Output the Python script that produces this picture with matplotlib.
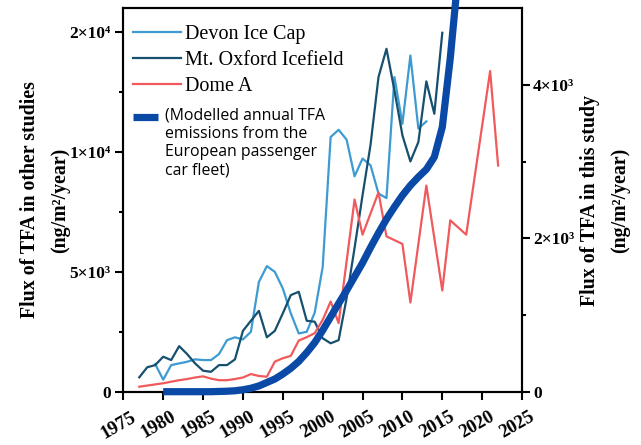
import matplotlib
matplotlib.use("Agg")
import numpy as np
import matplotlib.pyplot as plt
from matplotlib.legend_handler import HandlerLine2D
from matplotlib.transforms import ScaledTranslation

# Devon Ice Cap and Mt. Oxford Icefield (left axis, ng/m2/year)
devon_years = list(range(1979, 2014))
devon_flux = [1150, 500, 1110, 1180, 1250, 1350, 1320, 1320, 1570, 2150,
              2270, 2180, 2500, 4580, 5240, 5000, 4310, 3270, 2430, 2500,
              3300, 5200, 10630, 10930, 10520, 8990, 9730, 9450, 8270, 8080,
              13130, 11180, 14030, 10980, 11280]

oxford_years = list(range(1977, 2016))
oxford_flux = [600, 1020, 1110, 1460, 1320, 1900, 1570, 1180, 875, 830,
               1110, 1110, 1350, 2540, 2960, 3375, 2270, 2540, 3270, 4030,
               4170, 2960, 2920, 2230, 2020, 2150, 3900, 6000, 8200, 10300,
               13130, 14310, 12570, 10700, 9610, 10420, 12950, 11600, 14980]

# Dome A (right axis, this study)
domea_years = [1977, 1978, 1979, 1980, 1981, 1982, 1983, 1984, 1985, 1986,
               1987, 1988, 1989, 1990, 1991, 1992, 1993, 1994, 1995, 1996,
               1997, 1998, 1999, 2000, 2001, 2002, 2004, 2005, 2007, 2008,
               2010, 2011, 2013, 2015, 2016, 2018, 2021, 2022]
domea_flux = [65, 80, 95, 110, 130, 150, 165, 185, 200, 170,
              150, 150, 165, 185, 230, 205, 195, 392, 436, 467,
              667, 711, 763, 937, 1176, 894, 2506, 2048, 2600, 2026,
              1927, 1163, 2688, 1320, 2235, 2048, 4182, 2950]

# modelled TFA emissions from the European passenger car fleet
model_years = list(range(1980, 2018))
model_flux = [0, 0, 0, 0, 0, 0, 0, 3, 6, 12,
              25, 45, 75, 120, 165, 230, 305, 395, 510, 640,
              800, 975, 1150, 1320, 1500, 1680, 1880, 2070, 2250, 2410,
              2560, 2690, 2800, 2900, 3060, 3450, 4350, 5450]

left_ticks = [0, 5000, 10000, 15000]
left_labels = ["0", "5×10³", "1×10⁴", "2×10⁴"]
right_ticks = [0, 2000, 4000]
right_labels = ["0", "2×10³", "4×10³"]
year_ticks = list(range(1975, 2030, 5))

serif = ["Liberation Serif", "DejaVu Serif"]
plt.rcParams["font.family"] = serif

c_devon = "#3d9bd2"
c_oxford = "#17506f"
c_domea = "#f05a5c"
c_model = "#0a49a5"


class TopLineHandler(HandlerLine2D):
    """Legend key raised to sit beside the first line of a multi-line label."""

    def __init__(self, shift, **kw):
        super().__init__(**kw)
        self.shift = shift

    def create_artists(self, legend, orig_handle, xdescent, ydescent,
                       width, height, fontsize, trans):
        arts = super().create_artists(legend, orig_handle, xdescent, ydescent,
                                      width, height, fontsize, trans)
        for a in arts:
            a.set_ydata(np.asarray(a.get_ydata()) + self.shift)
        return arts


fig = plt.figure(figsize=(6.41, 4.45), dpi=100)
ax = fig.add_axes([0.1924, 0.1198, 0.622, 0.8615])
ax2 = ax.twinx()

l_devon, = ax.plot(devon_years, devon_flux, color=c_devon, lw=1.6)
l_oxford, = ax.plot(oxford_years, oxford_flux, color=c_oxford, lw=1.6)
l_domea, = ax2.plot(domea_years, domea_flux, color=c_domea, lw=1.6)
l_model, = ax2.plot(model_years, model_flux, color=c_model, lw=5.2,
                    solid_capstyle="butt", solid_joinstyle="round",
                    clip_on=False, zorder=5)

ax.set_xlim(1975, 2025)
ax.set_ylim(0, 16000)
ax2.set_ylim(0, 5000)

ax.set_xticks(year_ticks)
ax.set_xticklabels([str(y) for y in year_ticks], rotation=30, ha="right",
                   va="top", rotation_mode="anchor",
                   fontsize=13.5, fontweight="bold")
ax.set_yticks(left_ticks)
ax.set_yticklabels(left_labels, fontsize=12.5, fontweight="bold")
ax.set_yticks([2500, 7500, 12500], minor=True)
ax2.set_yticks(right_ticks)
ax2.set_yticklabels(right_labels, fontsize=12.5, fontweight="bold")
ax2.set_yticks([1000, 3000], minor=True)

for a in (ax, ax2):
    for s in a.spines.values():
        s.set_linewidth(1.5)
ax.tick_params(axis="both", which="major", width=1.5, length=5.5)
ax.tick_params(axis="x", pad=8)
ax.tick_params(axis="y", pad=3.5)
ax.tick_params(axis="y", which="minor", width=1.5, length=3)
ax2.tick_params(axis="y", which="major", width=1.5, length=5.5, pad=2.5)
ax2.tick_params(axis="y", which="minor", width=1.5, length=3)

# nudge the slanted year labels a little to the right
nudge = ScaledTranslation(0.07, 0.02, fig.dpi_scale_trans)
for lbl in ax.get_xticklabels():
    lbl.set_transform(lbl.get_transform() + nudge)

ax.set_ylabel("Flux of TFA in other studies\n(ng/m²/year)",
              fontsize=14.3, fontweight="bold", labelpad=0, linespacing=1.65)
ax2.set_ylabel("Flux of TFA in this study\n(ng/m²/year)",
               fontsize=14.3, fontweight="bold", labelpad=4, linespacing=1.7)

leg1 = ax2.legend([l_devon, l_oxford, l_domea],
                  ["Devon Ice Cap", "Mt. Oxford Icefield", "Dome A"],
                  loc="upper left", bbox_to_anchor=(0.0243, 0.956),
                  frameon=False, borderpad=0, borderaxespad=0,
                  handlelength=2.4, handletextpad=0.2, labelspacing=0.33,
                  prop={"family": serif, "size": 14.5})
ax2.add_artist(leg1)
ax2.legend([l_model],
           ["(Modelled annual TFA\nemissions from the\n"
            "European passenger\ncar fleet)"],
           loc="upper left", bbox_to_anchor=(0.0243, 0.742),
           frameon=False, borderpad=0, borderaxespad=0,
           handlelength=1.6, handletextpad=0.45,
           handler_map={l_model: TopLineHandler(shift=19)},
           prop={"family": ["Open Sans", "DejaVu Sans"], "size": 11.4})

fig.savefig("out.png", dpi=100)
